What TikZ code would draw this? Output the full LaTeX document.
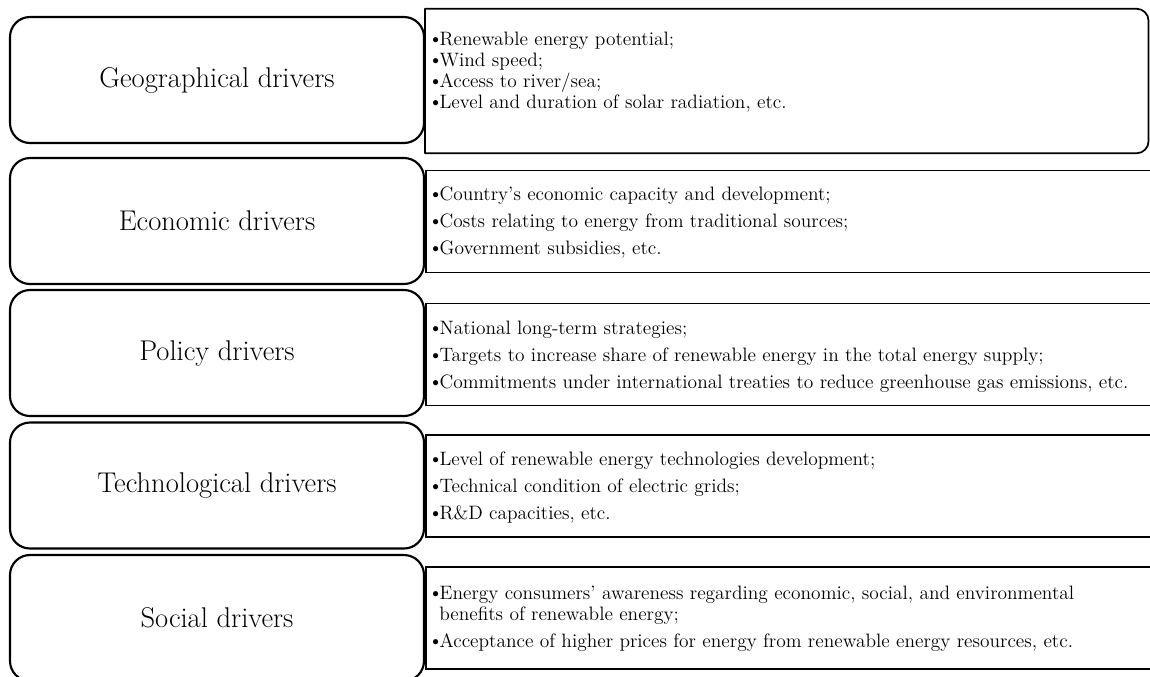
\documentclass[tikz,border=0pt]{standalone}
\usepackage{graphicx}
\begin{document}
\newcommand{\bul}{\makebox[3.6pt][l]{\raisebox{1.2pt}{\fontsize{10}{10}\selectfont$\bullet$}}\hspace{1.9pt}}
\begin{tikzpicture}[x=0.75pt,y=-0.75pt,
  driver/.style={draw, line width=1.6pt, rounded corners=15pt,
    minimum width=414*0.75pt, minimum height=126*0.75pt, inner sep=0pt,
    font=\fontsize{21.4}{25}\selectfont},
  detail/.style={draw, line width=1.3pt, anchor=west, inner sep=0pt,
    minimum width=735*0.75pt, minimum height=102*0.75pt},
  itemtext/.style={anchor=base west, inner sep=0pt,
    font=\fontsize{14.55}{15.75}\selectfont}]
\useasboundingbox (0,0) rectangle (1150,676);
\clip (0,0) rectangle (1150,676);

% driver categories (left column)
\node[driver] (geo) at (217,80)    {Geographical drivers};
\node[driver] (eco) at (217,221)   {Economic drivers};
\node[driver] (pol) at (217,353)   {Policy drivers};
\node[driver] (tec) at (217,485.5) {Technological drivers};
\node[driver] (soc) at (217,618)   {Social drivers};

% first detail box: square on the left, rounded on the right
\node[inner sep=0pt, anchor=west, minimum width=723*0.75pt,
      minimum height=144*0.75pt] (geod) at (425,81) {};
\draw[line width=1.3pt, line join=round]
  (geod.north west) -- ([xshift=-9pt]geod.north east)
  arc[start angle=90, end angle=0, radius=9pt]
  -- ([yshift=9pt]geod.south east)
  arc[start angle=0, end angle=-90, radius=9pt]
  -- (geod.south west) -- cycle;

% remaining detail boxes, running off the right edge
\node[detail] (ecod) at (425,221.5) {};
\node[detail] (pold) at (425,354.5) {};
\node[detail] (tecd) at (425,486)   {};
\node[detail] (socd) at (425,618)   {};

% geographical drivers
\node[itemtext] (g1) at (432,45)  {\bul Renewable energy potential;};
\node[itemtext] (g2) at (432,66)  {\bul Wind speed;};
\node[itemtext] (g3) at (432,87)  {\bul Access to river/sea;};
\node[itemtext] (g4) at (432,108) {\bul Level and duration of solar radiation, etc.};

% economic drivers
\node[itemtext] (e1) at (432,200.5) {\bul Country’s economic capacity and development;};
\node[itemtext] (e2) at (432,227.5) {\bul Costs relating to energy from traditional sources;};
\node[itemtext] (e3) at (432,254.5) {\bul Government subsidies, etc.};

% policy drivers
\node[itemtext] (p1) at (432,334) {\bul National long-term strategies;};
\node[itemtext] (p2) at (432,361) {\bul Targets to increase share of renewable energy in the total energy supply;};
\node[itemtext] (p3) at (432,388) {\bul Commitments under international treaties to reduce greenhouse gas emissions, etc.};

% technological drivers
\node[itemtext] (t1) at (432,465) {\bul Level of renewable energy technologies development;};
\node[itemtext] (t2) at (432,492) {\bul Technical condition of electric grids;};
\node[itemtext] (t3) at (432,519) {\bul R\&D capacities, etc.};

% social drivers
\node[itemtext] (s1) at (432,599.5) {\bul Energy consumers’ awareness regarding economic, social, and environmental};
\node[itemtext] (s2) at (439,620) {benefits of renewable energy;};
\node[itemtext] (s3) at (432,647.5) {\bul Acceptance of higher prices for energy from renewable energy resources, etc.};
\end{tikzpicture}
\end{document}
